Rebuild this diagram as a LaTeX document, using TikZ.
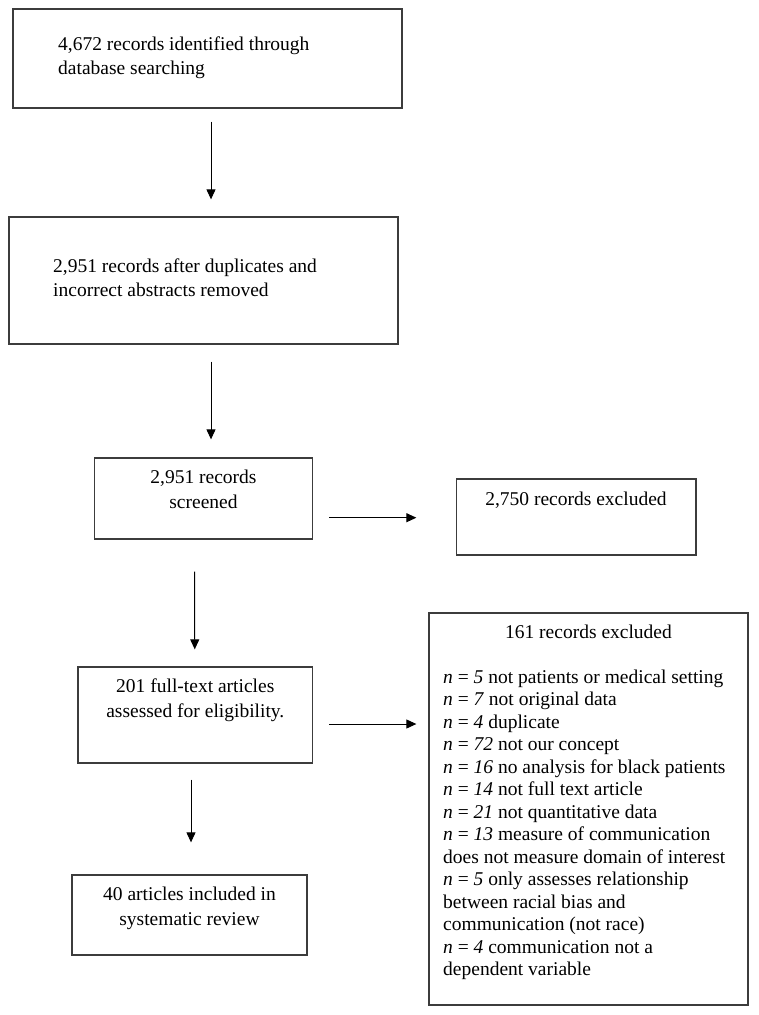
\documentclass[tikz,border=0pt]{standalone}
\usepackage{fontspec}
\setmainfont{Liberation Serif}
\usetikzlibrary{arrows.meta}
\definecolor{boxline}{HTML}{3C3C3C}
\tikzset{
  box/.style={draw=boxline, line width=1.3pt, rectangle, inner sep=0pt},
  txt/.style={inner sep=0pt, font=\fontsize{19.5pt}{#1}\selectfont},
  txt/.default={24pt},
  arr/.style={line width=1pt, -{Triangle[length=10pt,width=9pt]}}
}
\begin{document}
\begin{tikzpicture}[x=1pt,y=-1pt]
\useasboundingbox (0,0) rectangle (758,1015);
% boxes
\node[box, minimum width=389pt, minimum height=99pt] (b1) at (207.5,58.5) {};
\node[box, minimum width=389pt, minimum height=127pt] (b2) at (203.5,280.5) {};
\node[box, minimum width=218pt, minimum height=81pt] (b3) at (203.5,498.5) {};
\node[box, minimum width=239.5pt, minimum height=76pt] (b3x) at (576.25,517) {};
\node[box, minimum width=234.5pt, minimum height=96pt] (b4) at (195.25,715) {};
\node[box, minimum width=319pt, minimum height=392pt] (b4x) at (588.5,809) {};
\node[box, minimum width=235pt, minimum height=80pt] (b5) at (189.5,915) {};
% texts (base anchor = baseline of last line)
\node[txt, anchor=base west, align=left] (t1) at (58,74) {4,672 records identified through\\database searching};
\node[txt, anchor=base west, align=left] (t2) at (53,296) {2,951 records after duplicates and\\incorrect abstracts removed};
\node[txt=25pt, anchor=base, align=center] (t3) at (203.5,508) {2,951 records\\screened};
\node[txt, anchor=base] (t3x) at (576,505) {2,750 records excluded};
\node[txt=25pt, anchor=base, align=center] (t4) at (195.3,717) {201 full-text articles\\assessed for eligibility.};
\node[txt, anchor=base] (t4h) at (588.5,638) {161 records excluded};
\node[txt=22.5pt, anchor=base west, align=left] (t4x) at (443,975.5) {%
\textit{n} = \textit{5} not patients or medical setting\\
\textit{n} = \textit{7} not original data\\
\textit{n} = \textit{4} duplicate\\
\textit{n} = \textit{72} not our concept\\
\textit{n} = \textit{16} no analysis for black patients\\
\textit{n} = \textit{14} not full text article\\
\textit{n} = \textit{21} not quantitative data\\
\textit{n} = \textit{13} measure of communication\\
does not measure domain of interest\\
\textit{n} = \textit{5} only assesses relationship\\
between racial bias and\\
communication (not race)\\
\textit{n} = \textit{4} communication not a\\
dependent variable};
\node[txt=25pt, anchor=base, align=center] (t5) at (189.5,925) {40 articles included in\\systematic review};
% arrows
\draw[arr] ([xshift=3.5pt,yshift=-13pt]b1.south) -- ([xshift=7.5pt,yshift=17pt]b2.north);
\draw[arr] ([xshift=7.5pt,yshift=-17pt]b2.south) -- ([xshift=7.5pt,yshift=18pt]b3.north);
\draw[arr] ([xshift=-8.8pt,yshift=-32pt]b3.south) -- ([xshift=-0.5pt,yshift=17pt]b4.north);
\draw[arr] ([xshift=-4.25pt,yshift=-16pt]b4.south) -- ([xshift=1.5pt,yshift=32pt]b5.north);
\draw[arr] ([xshift=16pt,yshift=-19.2pt]b3.east) -- ([xshift=-39.5pt,yshift=-0.7pt]b3x.west);
\draw[arr] ([xshift=16pt,yshift=-9pt]b4.east) -- ([xshift=-12pt,yshift=85pt]b4x.west);
\end{tikzpicture}
\end{document}
